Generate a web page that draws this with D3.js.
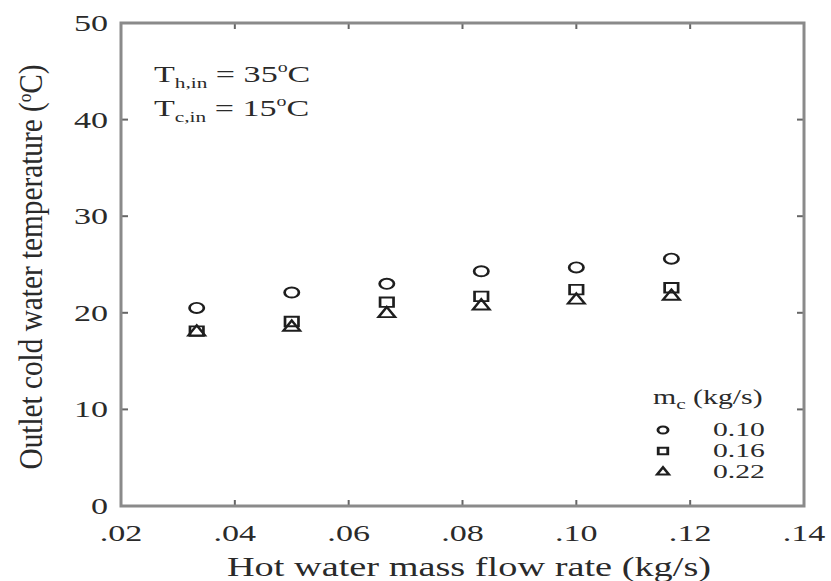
<!DOCTYPE html>
<html>
<head>
<meta charset="utf-8">
<script src="https://cdn.jsdelivr.net/npm/d3@7"></script>
<style>
  body { margin: 0; background: #fff; }
  text { font-family: "Liberation Serif", "DejaVu Serif", serif; fill: #2a2a2a; }
</style>
</head>
<body>
<svg></svg>
<script>
// data
let flowRates = [0.0333, 0.05, 0.0667, 0.0833, 0.10, 0.1167];
let temp010 = [20.5, 22.1, 23.0, 24.3, 24.7, 25.6];
let temp016 = [18.1, 19.1, 21.1, 21.7, 22.4, 22.6];
let temp022 = [18.0, 18.5, 19.9, 20.7, 21.3, 21.7];
let seriesNames = ['0.10', '0.16', '0.22'];
let xTicks = [0.02, 0.04, 0.06, 0.08, 0.10, 0.12, 0.14];
let xTickLabels = ['.02', '.04', '.06', '.08', '.10', '.12', '.14'];
let yTicks = [0, 10, 20, 30, 40, 50];

// the picture is stretched sideways, so text and markers get a wider x scale
let stretch = 1.42;

let config = {
  'svg': {},
  'plot': {}
};
config.svg.width = 831;
config.svg.height = 581;
config.plot.x = 121;
config.plot.y = 23;
config.plot.width = 804 - 121;
config.plot.height = 506 - 23;

let svg = d3.select('svg')
  .attr('width', config.svg.width)
  .attr('height', config.svg.height);

let x = d3.scaleLinear().domain([0.02, 0.14]).range([config.plot.x, config.plot.x + config.plot.width]);
let y = d3.scaleLinear().domain([0, 50]).range([config.plot.y + config.plot.height, config.plot.y]);

let frameColor = '#8a8a8a';

// ticks pointing inward on all four sides
let ticks = svg.append('g').attr('stroke', '#666').attr('stroke-width', 2);
xTicks.slice(1, -1).forEach(t => {
  ticks.append('line').attr('x1', x(t)).attr('x2', x(t)).attr('y1', y(0)).attr('y2', y(0) - 6);
  ticks.append('line').attr('x1', x(t)).attr('x2', x(t)).attr('y1', y(50)).attr('y2', y(50) + 6);
});
yTicks.slice(1, -1).forEach(t => {
  ticks.append('line').attr('x1', x(0.02)).attr('x2', x(0.02) + 7).attr('y1', y(t)).attr('y2', y(t));
  ticks.append('line').attr('x1', x(0.14)).attr('x2', x(0.14) - 7).attr('y1', y(t)).attr('y2', y(t));
});

// frame
svg.append('rect')
  .attr('x', x(0.02)).attr('y', y(50))
  .attr('width', x(0.14) - x(0.02)).attr('height', y(0) - y(50))
  .attr('fill', 'none').attr('stroke', frameColor).attr('stroke-width', 3);

// helper for horizontally stretched text
function stretchedText(g, px, py, anchor, size, sx) {
  return g.append('text')
    .attr('transform', `translate(${px},${py}) scale(${sx || stretch},1)`)
    .attr('text-anchor', anchor)
    .attr('font-size', size);
}

// tick labels
xTicks.forEach((t, i) => {
  stretchedText(svg, x(t), 541, 'middle', 24).text(xTickLabels[i]);
});
yTicks.forEach(t => {
  stretchedText(svg, 108, y(t) + 8, 'end', 24).text(t);
});

// axis titles
stretchedText(svg, 469, 576, 'middle', 27)
  .text('Hot water mass flow rate (kg/s)');

svg.append('text')
  .attr('transform', `translate(42,267) scale(${stretch},1) rotate(-90)`)
  .attr('text-anchor', 'middle')
  .attr('font-size', 24)
  .attr('textLength', 405)
  .attr('lengthAdjust', 'spacingAndGlyphs')
  .html('Outlet cold water temperature (<tspan dy="-8" font-size="14">o</tspan><tspan dy="8">C)</tspan>');

// conditions
let cond = [['h,in', '35'], ['c,in', '15']];
cond.forEach((c, i) => {
  let t = stretchedText(svg, 154, 82 + i * 34, 'start', 24);
  t.append('tspan').text('T');
  t.append('tspan').attr('font-size', 15).attr('dy', 6).text(c[0]);
  t.append('tspan').attr('dy', -6).text(' = ' + c[1]);
  t.append('tspan').attr('font-size', 14).attr('dy', -10).text('o');
  t.append('tspan').attr('dy', 10).text('C');
});

// markers
let shapes = [d3.symbolCircle, d3.symbolSquare, d3.symbolTriangle];
let sizes = [80, 90, 60];
let series = [temp010, temp016, temp022];
let markColor = '#1e1e1e';

series.forEach((vals, s) => {
  let sym = d3.symbol().type(shapes[s]).size(sizes[s]);
  svg.append('g').selectAll('path')
    .data(vals)
    .join('path')
    .attr('d', sym)
    .attr('transform', (d, i) => `translate(${x(flowRates[i])},${y(d)}) scale(${stretch},1)`)
    .attr('fill', 'none')
    .attr('stroke', markColor)
    .attr('stroke-width', 1.9);
});

// legend
let legend = svg.append('g');
let lt = stretchedText(legend, 653, 404, 'start', 21);
lt.append('tspan').text('m');
lt.append('tspan').attr('font-size', 15).attr('dy', 5).text('c');
lt.append('tspan').attr('dy', -5).text(' (kg/s)');

seriesNames.forEach((name, s) => {
  let ly = 430 + s * 21;
  legend.append('path')
    .attr('d', d3.symbol().type(shapes[s]).size(sizes[s] * 0.5))
    .attr('transform', `translate(663,${ly}) scale(${stretch},1)`)
    .attr('fill', 'none')
    .attr('stroke', markColor)
    .attr('stroke-width', 2);
  stretchedText(legend, 713, ly + 6, 'start', 18, 1.65).text(name);
});
</script>
</body>
</html>
